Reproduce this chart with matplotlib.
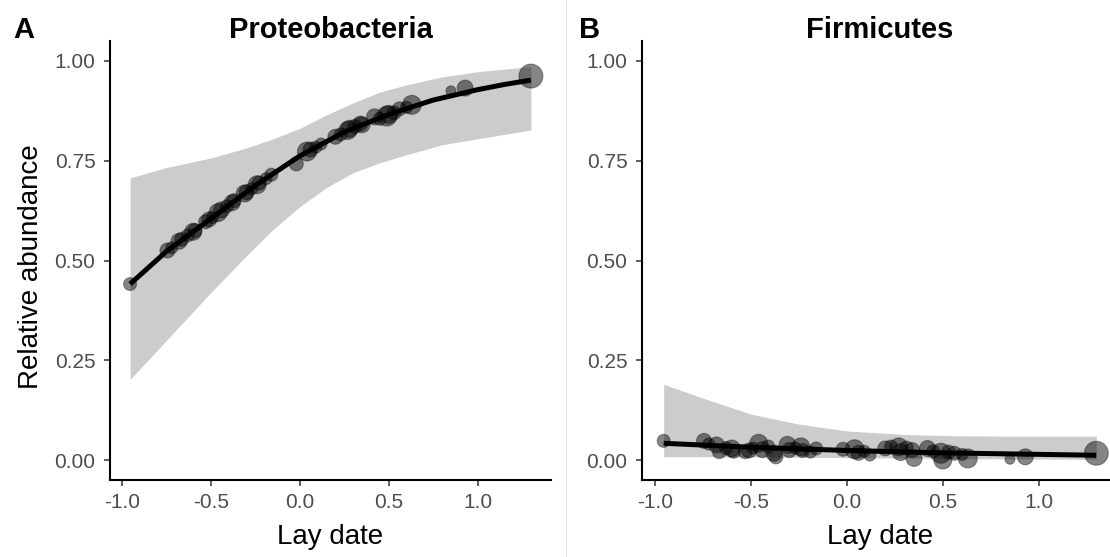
import matplotlib
matplotlib.use("Agg")
import matplotlib.pyplot as plt
from matplotlib.lines import Line2D
import numpy as np

plt.rcParams['font.family'] = ['Liberation Sans', 'DejaVu Sans']

# ---- data ----
lay_date = [-0.955, -0.745, -0.72, -0.68, -0.665, -0.63, -0.60, -0.59, -0.53, -0.51,
            -0.49, -0.46, -0.44, -0.41, -0.38, -0.37, -0.31, -0.30, -0.27, -0.24,
            -0.23, -0.19, -0.16, -0.02, 0.04, 0.06, 0.09, 0.12, 0.20, 0.23,
            0.27, 0.28, 0.31, 0.34, 0.35, 0.42, 0.45, 0.49, 0.50, 0.53,
            0.56, 0.60, 0.63, 0.85, 0.93, 1.30]
point_size = [13, 15, 12, 16, 14, 13, 17, 14, 14, 15,
              12, 18, 16, 13, 16, 14, 17, 15, 12, 18,
              14, 12, 13, 14, 19, 15, 12, 12, 15, 13,
              18, 17, 14, 15, 16, 16, 13, 20, 18, 14,
              14, 12, 19, 10, 16, 24]
proteo_abund = [0.441, 0.525, 0.532, 0.548, 0.553, 0.563, 0.572, 0.575, 0.597, 0.603,
                0.608, 0.620, 0.627, 0.636, 0.645, 0.650, 0.668, 0.671, 0.680, 0.690,
                0.694, 0.705, 0.715, 0.742, 0.773, 0.778, 0.784, 0.792, 0.810, 0.816,
                0.826, 0.830, 0.836, 0.843, 0.840, 0.860, 0.855, 0.862, 0.866, 0.870,
                0.880, 0.884, 0.890, 0.925, 0.932, 0.962]
firmi_abund = [0.048, 0.048, 0.040, 0.038, 0.021, 0.030, 0.029, 0.022, 0.021, 0.024,
               0.030, 0.042, 0.026, 0.034, 0.017, 0.008, 0.038, 0.025, 0.030, 0.033,
               0.024, 0.020, 0.029, 0.027, 0.027, 0.018, 0.022, 0.0125, 0.029, 0.034,
               0.033, 0.020, 0.030, 0.025, 0.004, 0.029, 0.022, 0.017, 0.000, 0.020,
               0.017, 0.014, 0.004, 0.002, 0.008, 0.017]

proteo_fit_x = [-0.955, -0.75, -0.5, -0.25, 0.0, 0.25, 0.5, 0.75, 1.0, 1.15, 1.3]
proteo_fit_y = [0.441, 0.523, 0.605, 0.688, 0.762, 0.822, 0.866, 0.902, 0.928, 0.941, 0.952]
proteo_ci_x = [-0.955, -0.75, -0.5, -0.3, -0.15, 0.0, 0.15, 0.3, 0.45, 0.6, 0.8, 1.0, 1.3]
proteo_ci_hi = [0.707, 0.733, 0.757, 0.782, 0.805, 0.831, 0.865, 0.895, 0.922, 0.940, 0.960, 0.973, 0.986]
proteo_ci_lo = [0.202, 0.300, 0.420, 0.512, 0.578, 0.635, 0.683, 0.720, 0.745, 0.765, 0.790, 0.805, 0.827]

firmi_fit_x = [-0.955, -0.5, 0.0, 0.5, 1.3]
firmi_fit_y = [0.042, 0.032, 0.024, 0.018, 0.012]
firmi_ci_x = [-0.955, -0.75, -0.5, -0.25, 0.0, 0.3, 0.55, 0.8, 1.3]
firmi_ci_hi = [0.190, 0.155, 0.115, 0.090, 0.073, 0.064, 0.061, 0.060, 0.060]
firmi_ci_lo = [0.008, 0.008, 0.008, 0.007, 0.006, 0.005, 0.004, 0.003, 0.002]

x_ticks = [-1.0, -0.5, 0.0, 0.5, 1.0]
x_tick_labels = ["-1.0", "-0.5", "0.0", "0.5", "1.0"]
y_ticks = [0.0, 0.25, 0.5, 0.75, 1.0]
y_tick_labels = ["0.00", "0.25", "0.50", "0.75", "1.00"]

# ---- figure ----
W, H = 1110, 557
fig = plt.figure(figsize=(W / 100, H / 100), dpi=100)

def px_axes(l, r, t, b):
    return fig.add_axes([l / W, 1 - b / H, (r - l) / W, (b - t) / H])

axA = px_axes(110, 551, 41, 480)
axB = px_axes(642, 1118, 41, 480)

tick_col = '#4D4D4D'
for ax, fx, fy, cx, chi, clo, yv in [
        (axA, proteo_fit_x, proteo_fit_y, proteo_ci_x, proteo_ci_hi, proteo_ci_lo, proteo_abund),
        (axB, firmi_fit_x, firmi_fit_y, firmi_ci_x, firmi_ci_hi, firmi_ci_lo, firmi_abund)]:
    ax.fill_between(cx, clo, chi, color='#CCCCCC', linewidth=0, zorder=1)
    s = (np.array(point_size) / 1.389) ** 2
    ax.scatter(lay_date, yv, s=s, facecolor=(0, 0, 0, 0.48), edgecolor=(0, 0, 0, 0.35),
               linewidths=0.8, zorder=2)
    ax.plot(fx, fy, color='black', lw=3.6, solid_capstyle='butt',
            solid_joinstyle='round', zorder=3)
    ax.set_xlim(-1.068, 1.413)
    ax.set_ylim(-0.05, 1.05)
    ax.set_xticks(x_ticks)
    ax.set_xticklabels(x_tick_labels)
    ax.set_yticks(y_ticks)
    ax.set_yticklabels(y_tick_labels)
    for sp in ['top', 'right']:
        ax.spines[sp].set_visible(False)
    for sp in ['left', 'bottom']:
        ax.spines[sp].set_linewidth(1.5)
        ax.spines[sp].set_color('black')
    ax.tick_params(axis='both', length=4.5, width=1.1, color='#333333',
                   labelsize=15, labelcolor=tick_col, pad=5)
    ax.tick_params(axis='y', pad=6)
    ax.set_facecolor('none')

# titles and labels
fig.text(331 / W, 1 - 38 / H, "Proteobacteria", ha='center', va='baseline',
         fontsize=21, fontweight='bold')
fig.text(880 / W, 1 - 38 / H, "Firmicutes", ha='center', va='baseline',
         fontsize=21, fontweight='bold')
fig.text(13 / W, 1 - 38 / H, "A", ha='left', va='baseline', fontsize=21, fontweight='bold')
fig.text(579 / W, 1 - 38 / H, "B", ha='left', va='baseline', fontsize=21, fontweight='bold')
fig.text(330 / W, 1 - 544 / H, "Lay date", ha='center', va='baseline', fontsize=20)
fig.text(880 / W, 1 - 544 / H, "Lay date", ha='center', va='baseline', fontsize=20)
fig.text(31 / W, 1 - 267 / H, "Relative abundance", ha='center', va='center',
         rotation=90, fontsize=20)

fig.add_artist(Line2D([566 / W, 566 / W], [0, 1], color='#E3E3E3', lw=0.8,
                      transform=fig.transFigure))

fig.savefig("out.png", dpi=100)
